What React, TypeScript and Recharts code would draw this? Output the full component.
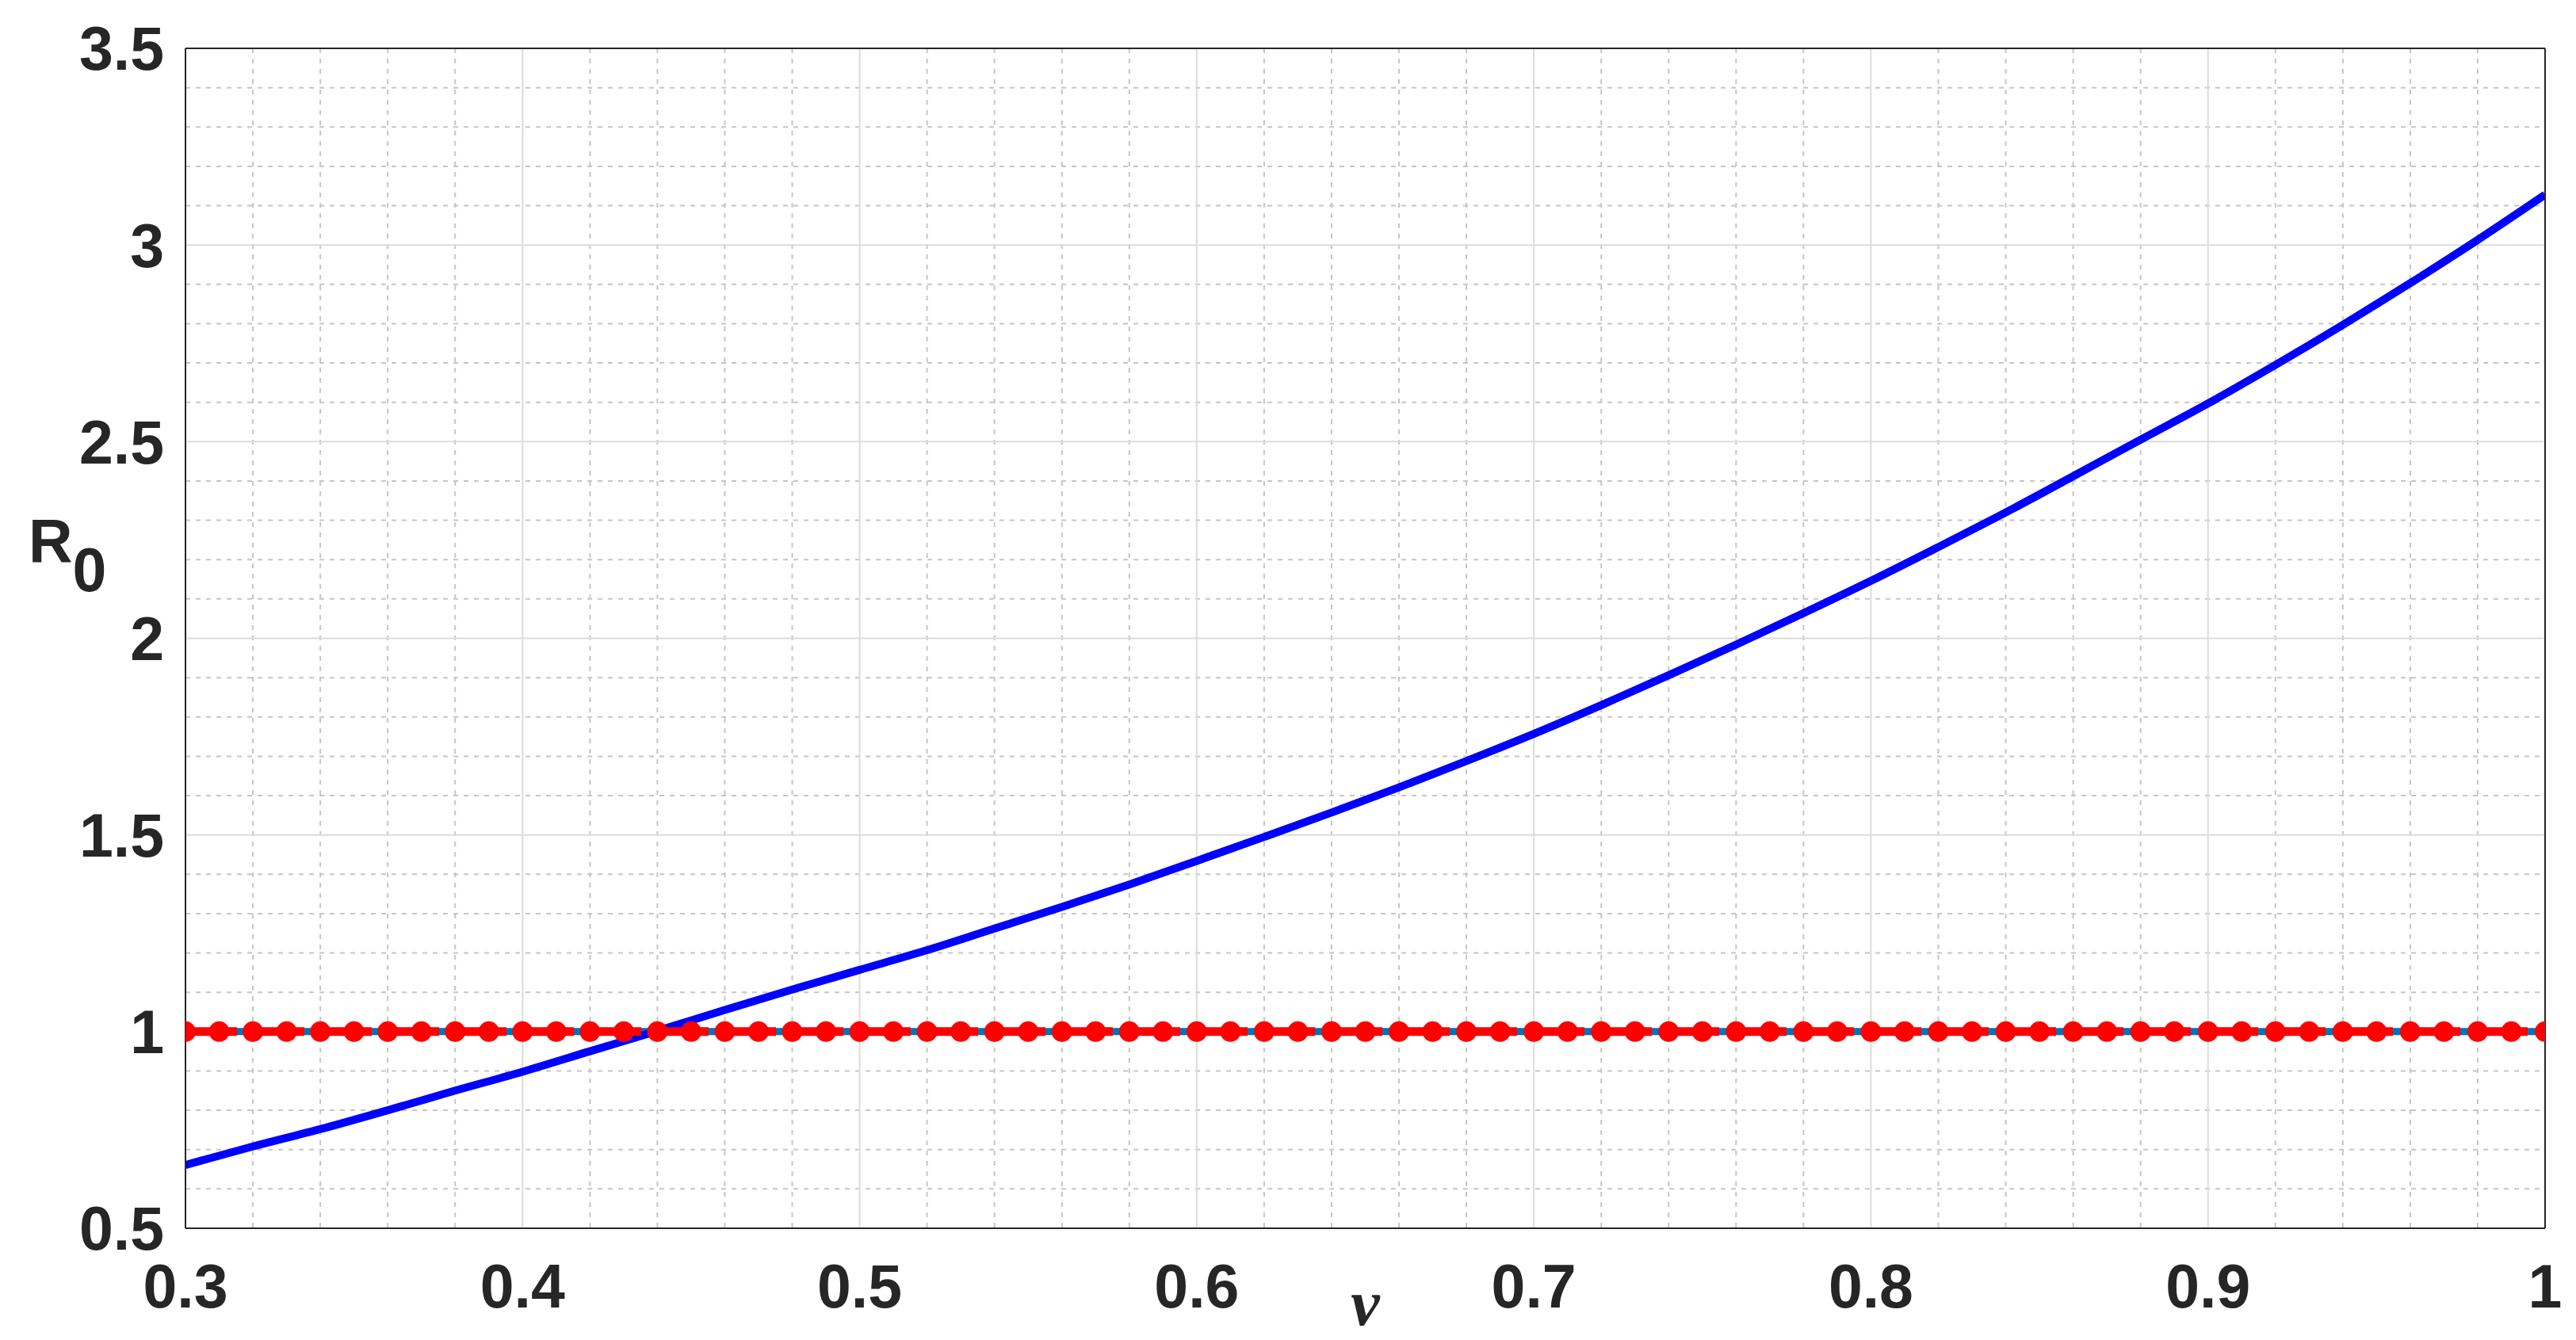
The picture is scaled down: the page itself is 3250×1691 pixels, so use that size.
import { LineChart, Line, XAxis, YAxis, CartesianGrid } from 'recharts';

const nuCurve = [
  0.3, 0.32, 0.34, 0.36, 0.38, 0.4, 0.42, 0.44, 0.46, 0.48, 0.5, 0.52, 0.54, 0.56, 0.58, 0.6, 0.62, 0.64,
  0.66, 0.68, 0.7, 0.72, 0.74, 0.76, 0.78, 0.8, 0.82, 0.84, 0.86, 0.88, 0.9, 0.92, 0.94, 0.96, 0.98, 1,
];
const r0Curve = [
  0.661, 0.708, 0.752, 0.8, 0.85, 0.898, 0.95, 1.002, 1.055, 1.107, 1.157, 1.207, 1.262, 1.317, 1.374, 1.434,
  1.495, 1.557, 1.621, 1.688, 1.757, 1.83, 1.906, 1.984, 2.064, 2.146, 2.232, 2.32, 2.412, 2.505, 2.597,
  2.695, 2.797, 2.903, 3.013, 3.128,
];

// threshold R0 = 1, marked every 0.01
const nuMarkers = [
  0.3, 0.31, 0.32, 0.33, 0.34, 0.35, 0.36, 0.37, 0.38, 0.39, 0.4, 0.41, 0.42, 0.43, 0.44, 0.45, 0.46, 0.47,
  0.48, 0.49, 0.5, 0.51, 0.52, 0.53, 0.54, 0.55, 0.56, 0.57, 0.58, 0.59, 0.6, 0.61, 0.62, 0.63, 0.64, 0.65,
  0.66, 0.67, 0.68, 0.69, 0.7, 0.71, 0.72, 0.73, 0.74, 0.75, 0.76, 0.77, 0.78, 0.79, 0.8, 0.81, 0.82, 0.83,
  0.84, 0.85, 0.86, 0.87, 0.88, 0.89, 0.9, 0.91, 0.92, 0.93, 0.94, 0.95, 0.96, 0.97, 0.98, 0.99, 1,
];
const thresholdValues = [
  1, 1, 1, 1, 1, 1, 1, 1, 1, 1, 1, 1, 1, 1, 1, 1, 1, 1, 1, 1, 1, 1, 1, 1, 1, 1, 1, 1, 1, 1, 1, 1, 1, 1, 1, 1,
  1, 1, 1, 1, 1, 1, 1, 1, 1, 1, 1, 1, 1, 1, 1, 1, 1, 1, 1, 1, 1, 1, 1, 1, 1, 1, 1, 1, 1, 1, 1, 1, 1, 1, 1,
];

const xTicks = [0.3, 0.4, 0.5, 0.6, 0.7, 0.8, 0.9, 1];
const yTicks = [0.5, 1, 1.5, 2, 2.5, 3, 3.5];
const xMinor = [
  0.32, 0.34, 0.36, 0.38, 0.42, 0.44, 0.46, 0.48, 0.52, 0.54, 0.56, 0.58, 0.62, 0.64, 0.66, 0.68, 0.72, 0.74,
  0.76, 0.78, 0.82, 0.84, 0.86, 0.88, 0.92, 0.94, 0.96, 0.98,
];
const yMinor = [
  0.6, 0.7, 0.8, 0.9, 1.1, 1.2, 1.3, 1.4, 1.6, 1.7, 1.8, 1.9, 2.1, 2.2, 2.3, 2.4, 2.6, 2.7, 2.8, 2.9, 3.1,
  3.2, 3.3, 3.4,
];

const curveData = nuCurve.map((nu, i) => ({ nu, r0: r0Curve[i] }));
const thresholdData = nuMarkers.map((nu, i) => ({ nu, r0: thresholdValues[i] }));

const AXIS = '#262626';
const FONT = '"Liberation Sans", Arial, Helvetica, sans-serif';
const tickStyle = { fontSize: 77, fontWeight: 700, fill: AXIS, fontFamily: FONT };
const inTick = { stroke: AXIS, strokeWidth: 2 };

function R0Label(props: any) {
  const vb = props.viewBox || { x: 0, y: 0 };
  return (
    <text x={vb.x + 36} y={vb.y + 648} fontFamily={FONT} fontWeight={700} fontSize={77} fill={AXIS}>
      <tspan>R</tspan>
      <tspan dy={37}>0</tspan>
    </text>
  );
}

export default function App() {
  return (
    <div style={{ position: 'absolute', left: 0, top: 0, background: '#fff' }}>
      <LineChart width={3250} height={1691} margin={{ top: 61, right: 39, bottom: 0, left: 0 }}>
        {/* minor grid */}
        <CartesianGrid
          horizontalValues={yMinor}
          verticalValues={xMinor}
          stroke="#c6c6c6"
          strokeWidth={2}
          strokeDasharray="6 7"
        />
        {/* major grid */}
        <CartesianGrid horizontalValues={yTicks} verticalValues={xTicks} stroke="#dcdcdc" strokeWidth={2} />

        <XAxis
          type="number"
          dataKey="nu"
          domain={[0.3, 1]}
          ticks={xTicks}
          allowDataOverflow
          height={141}
          tickLine={false}
          tickSize={0}
          tickMargin={45}
          tick={tickStyle}
          axisLine={inTick}
          label={{
            value: 'ν',
            position: 'insideBottom',
            offset: 19,
            fontSize: 82,
            fontStyle: 'italic',
            fontWeight: 700,
            fontFamily: '"Liberation Serif", "DejaVu Serif", serif',
            fill: AXIS,
          }}
        />
        <YAxis
          type="number"
          domain={[0.5, 3.5]}
          ticks={yTicks}
          allowDataOverflow
          width={234}
          tickLine={false}
          tickSize={0}
          tickMargin={27}
          tick={tickStyle}
          axisLine={inTick}
          label={<R0Label />}
        />
        {/* inward ticks on all four sides, plus the top/right frame */}
        <XAxis xAxisId="bin" type="number" domain={[0.3, 1]} ticks={xTicks} allowDataOverflow orientation="bottom" mirror tick={false} tickSize={30} axisLine={false} tickLine={inTick} />
        <XAxis xAxisId="top" type="number" domain={[0.3, 1]} ticks={xTicks} allowDataOverflow orientation="top" mirror tick={false} tickSize={30} axisLine={inTick} tickLine={inTick} />
        <YAxis yAxisId="lin" type="number" domain={[0.5, 3.5]} ticks={yTicks} allowDataOverflow orientation="left" mirror tick={false} tickSize={30} axisLine={false} tickLine={inTick} />
        <YAxis yAxisId="right" type="number" domain={[0.5, 3.5]} ticks={yTicks} allowDataOverflow orientation="right" mirror tick={false} tickSize={30} axisLine={inTick} tickLine={inTick} />

        <Line
          data={thresholdData}
          dataKey="r0"
          stroke="#0072BD"
          strokeWidth={9}
          dot={false}
          isAnimationActive={false}
        />
        <Line
          data={curveData}
          dataKey="r0"
          type="monotone"
          stroke="#0000FF"
          strokeWidth={10}
          dot={false}
          isAnimationActive={false}
        />
        <Line
          data={thresholdData}
          dataKey="r0"
          stroke="#FF0000"
          strokeWidth={11}
          strokeDasharray="65 20"
          dot={{ r: 13, fill: '#FF0000', stroke: 'none' }}
          isAnimationActive={false}
        />
      </LineChart>
    </div>
  );
}
